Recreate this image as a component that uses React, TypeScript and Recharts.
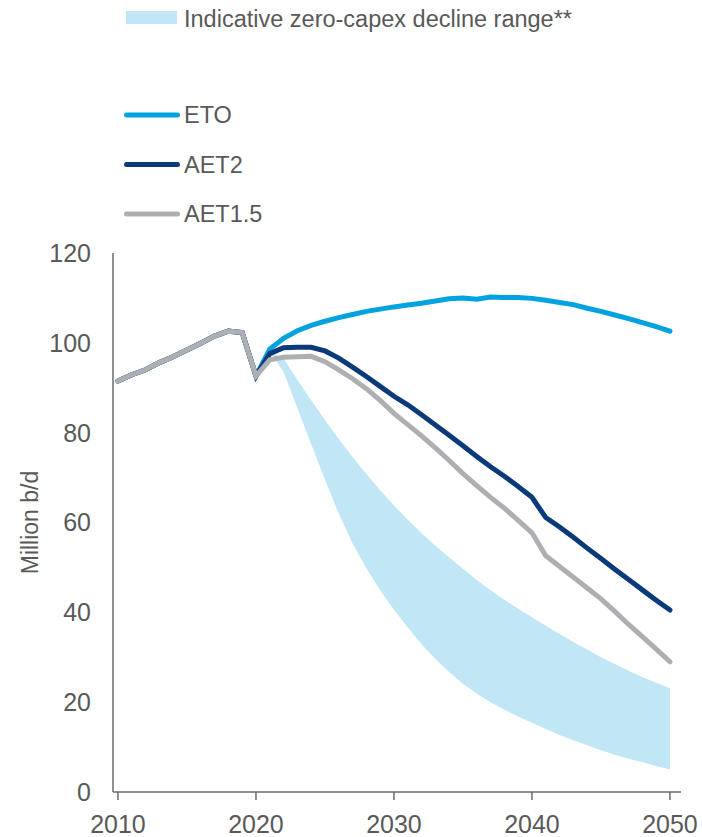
import React from 'react';
import { ComposedChart, Line, Area, XAxis, YAxis, Label } from 'recharts';

// yearly points, 2010-2050
const years = Array.from({ length: 41 }, (_, i) => 2010 + i);

// shared history 2010-2020 (million b/d)
const history = [91.5, 92.9, 94.0, 95.6, 96.9, 98.4, 99.9, 101.5, 102.6, 102.3, 92.6];

// scenario paths 2021-2050
const eto = [
  98.6, 101.0, 102.7, 103.9, 104.8, 105.6, 106.3, 107.0, 107.5, 108.0,
  108.4, 108.8, 109.3, 109.8, 110.0, 109.7, 110.2, 110.1, 110.1, 109.9,
  109.5, 109.0, 108.5, 107.7, 107.0, 106.2, 105.4, 104.5, 103.6, 102.6,
];
const aet2 = [
  97.6, 98.9, 99.0, 99.0, 98.2, 96.6, 94.6, 92.5, 90.3, 88.1,
  86.2, 84.0, 81.7, 79.4, 77.1, 74.7, 72.4, 70.3, 68.0, 65.6,
  61.1, 59.0, 56.7, 54.3, 52.0, 49.6, 47.3, 45.0, 42.7, 40.5,
];
const aet15 = [
  96.2, 96.8, 96.9, 97.0, 95.8, 94.0, 92.0, 89.8, 87.2, 84.3,
  81.8, 79.3, 76.6, 73.8, 70.9, 68.2, 65.6, 63.2, 60.5, 57.7,
  52.6, 50.2, 47.8, 45.4, 43.0, 40.2, 37.3, 34.6, 31.8, 29.0,
];

// zero-capex decline range 2021-2050
const declineLow = [
  98.0, 93.5, 85.5, 77.5, 69.5, 62.0, 55.3, 49.8, 44.9, 40.6,
  36.6, 32.9, 29.6, 26.7, 24.1, 21.9, 20.0, 18.3, 16.8, 15.4,
  14.0, 12.7, 11.5, 10.4, 9.3, 8.3, 7.4, 6.6, 5.8, 5.0,
];
const declineHigh = [
  98.0, 96.5, 91.8, 87.2, 82.8, 78.6, 74.6, 70.8, 67.2, 63.8,
  60.6, 57.6, 54.8, 52.2, 49.7, 47.2, 44.9, 42.8, 40.8, 38.9,
  37.0, 35.2, 33.4, 31.7, 30.0, 28.5, 27.0, 25.6, 24.3, 23.1,
];

const xTicks = [2010, 2020, 2030, 2040, 2050];
const yTicks = [0, 20, 40, 60, 80, 100, 120];

const series = [
  { key: 'eto', name: 'ETO', color: '#00a3e0', values: eto },
  { key: 'aet2', name: 'AET2', color: '#0b3a7a', values: aet2 },
  { key: 'aet15', name: 'AET1.5', color: '#aeafb2', values: aet15 },
];

const bandColor = '#c1e7f7';
const textColor = '#595959';
const axisColor = '#6b6b6b';
const font = '"Liberation Sans", Arial, sans-serif';

const data = years.map((year, i) => {
  const row: any = { year };
  const j = i - history.length;
  series.forEach((s) => {
    row[s.key] = j < 0 ? history[i] : s.values[j];
  });
  row.band = j < 0 ? null : [declineLow[j], declineHigh[j]];
  return row;
});

const ChartLegend = () => (
  <svg
    width={702}
    height={240}
    style={{ position: 'absolute', left: 0, top: 0, pointerEvents: 'none' }}
    fontFamily={font}
  >
    <rect x={126} y={11} width={51} height={13} fill={bandColor} />
    <text x={184} y={26.7} fontSize={23.5} fill={textColor}>
      Indicative zero-capex decline range**
    </text>
    {series.map((s, i) => {
      const y = 115 + i * 49.5;
      return (
        <g key={s.key}>
          <line x1={126.5} x2={177.5} y1={y} y2={y} stroke={s.color} strokeWidth={5} strokeLinecap="round" />
          <text x={184} y={y + 8.3} fontSize={23.5} fill={textColor}>
            {s.name}
          </text>
        </g>
      );
    })}
  </svg>
);

const App: React.FC = () => (
  <div style={{ position: 'absolute', left: 0, top: 0, width: 702, height: 837, background: '#fff' }}>
    <ComposedChart
      width={702}
      height={837}
      data={data}
      margin={{ top: 253, right: 21, bottom: 0, left: 0 }}
    >
      <XAxis
        dataKey="year"
        type="number"
        domain={[2009.64, 2050.8]}
        ticks={xTicks}
        interval={0}
        height={45}
        tickSize={8}
        tickMargin={15}
        axisLine={{ stroke: axisColor, strokeWidth: 1.5 }}
        tickLine={{ stroke: axisColor, strokeWidth: 1.5 }}
        tick={{ fill: textColor, fontSize: 25, fontFamily: font }}
      />
      <YAxis
        type="number"
        domain={[0, 120]}
        ticks={yTicks}
        interval={0}
        width={113}
        tickLine={false}
        tickSize={0}
        tickMargin={22}
        axisLine={{ stroke: axisColor, strokeWidth: 1.5 }}
        tick={{ fill: textColor, fontSize: 25, fontFamily: font }}
      >
        <Label
          content={({ viewBox }: any) => {
            const cy = viewBox.y + viewBox.height / 2;
            return (
              <text
                x={30}
                y={cy}
                transform={`rotate(-90, 30, ${cy})`}
                textAnchor="middle"
                dominantBaseline="central"
                fontSize={23}
                fontFamily={font}
                fill={textColor}
              >
                Million b/d
              </text>
            );
          }}
        />
      </YAxis>
      <Area
        dataKey="band"
        type="linear"
        stroke="none"
        fill={bandColor}
        fillOpacity={1}
        isAnimationActive={false}
        connectNulls={false}
      />
      {series.map((s) => (
        <Line
          key={s.key}
          dataKey={s.key}
          name={s.name}
          type="linear"
          stroke={s.color}
          strokeWidth={5}
          strokeLinecap="round"
          dot={false}
          activeDot={false}
          isAnimationActive={false}
        />
      ))}
    </ComposedChart>
    <ChartLegend />
  </div>
);

export default App;
